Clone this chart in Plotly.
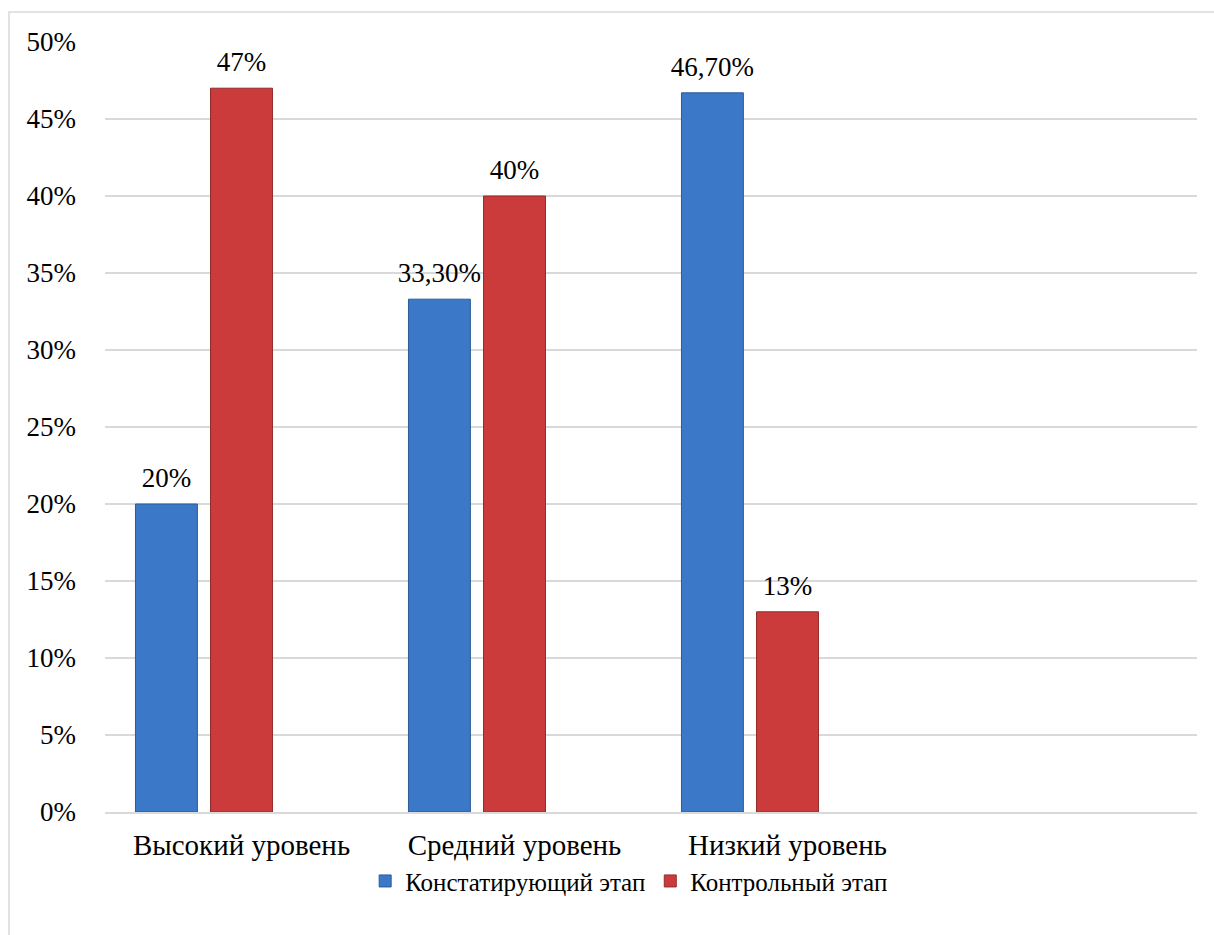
import plotly.graph_objects as go

categories = ["Высокий уровень", "Средний уровень", "Низкий уровень", " "]
series_names = ["Констатирующий этап", "Контрольный этап"]
stage1_values = [0.20, 0.333, 0.467, None]
stage2_values = [0.47, 0.40, 0.13, None]
stage1_labels = ["20%", "33,30%", "46,70%", ""]
stage2_labels = ["47%", "40%", "13%", ""]
empty_values = [None, None, None, None]
y_tickvals = [0, 0.05, 0.10, 0.15, 0.20, 0.25, 0.30, 0.35, 0.40, 0.45, 0.50]
y_ticktext = ["0%", "5%", "10%", "15%", "20%", "25%", "30%", "35%", "40%", "45%", "50%"]

FONT = "Liberation Serif"
BLUE = "#3B78C8"
RED = "#CC3B3B"
LABEL_TMPL = "<span style='font-size:27px'>%{text}</span><br> "

fig = go.Figure()
fig.add_trace(go.Bar(
    x=categories, y=stage1_values, name=series_names[0],
    marker=dict(color=BLUE, line=dict(color="#2C5A96", width=1)),
    text=stage1_labels, texttemplate=LABEL_TMPL,
    textposition="outside", cliponaxis=False, constraintext="none",
    textfont=dict(family=FONT, size=9, color="#000000"),
))
fig.add_trace(go.Bar(
    x=categories, y=stage2_values, name=series_names[1],
    marker=dict(color=RED, line=dict(color="#922A2A", width=1)),
    text=stage2_labels, texttemplate=LABEL_TMPL,
    textposition="outside", cliponaxis=False, constraintext="none",
    textfont=dict(family=FONT, size=9, color="#000000"),
))
fig.add_trace(go.Bar(
    x=categories, y=empty_values, name="", showlegend=False,
    marker=dict(color="rgba(0,0,0,0)"),
))

fig.update_layout(
    width=1214, height=935,
    margin=dict(l=105, r=17, t=42, b=123),
    paper_bgcolor="white", plot_bgcolor="white",
    barmode="group", bargap=0.175, bargroupgap=0.175,
    font=dict(family=FONT, size=27, color="#000000"),
    showlegend=True,
    legend=dict(orientation="h", x=0.48, xanchor="center", y=-0.06, yanchor="top",
                bgcolor="rgba(0,0,0,0)",
                font=dict(family=FONT, size=25, color="#000000"),
                itemwidth=30, traceorder="normal"),
    shapes=[dict(type="rect", xref="paper", yref="paper",
                 x0=(9 - 105) / 1092, x1=(1240 - 105) / 1092,
                 y0=-(960 - 812) / 770, y1=1 + (42 - 12) / 770,
                 line=dict(color="#D9D9D9", width=1.5), fillcolor="rgba(0,0,0,0)", layer="below")],
)
fig.update_xaxes(showgrid=False, showline=True, linecolor="#D9D9D9", linewidth=1.5,
                 ticks="", tickfont=dict(family=FONT, size=29), ticklabelstandoff=6)
fig.update_yaxes(range=[0, 0.5], tickvals=y_tickvals, ticktext=y_ticktext,
                 showgrid=True, gridcolor="#D9D9D9", gridwidth=1.5, zeroline=False,
                 showline=False, ticks="", tickfont=dict(family=FONT, size=27),
                 ticklabelstandoff=28)

fig.write_html("out.html")
